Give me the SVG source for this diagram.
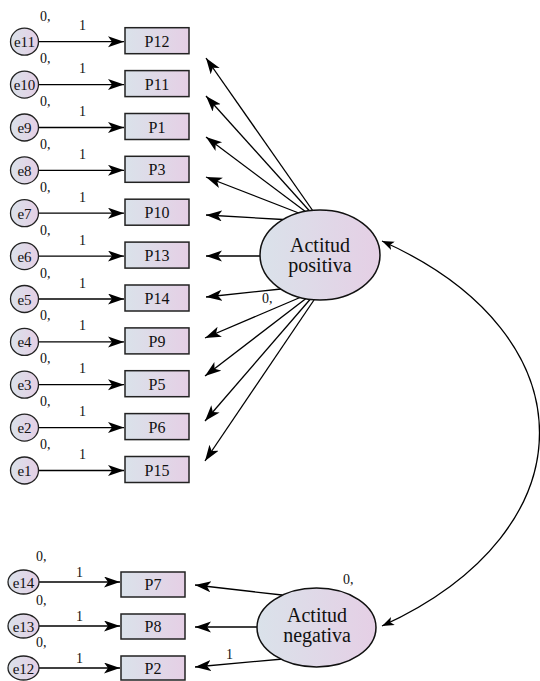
<svg xmlns="http://www.w3.org/2000/svg" width="540" height="681" viewBox="0 0 540 681">
<defs>
<linearGradient id="g" x1="0" y1="0" x2="1" y2="0">
<stop offset="0" stop-color="#dae2ea"/>
<stop offset="1" stop-color="#e5cfe5"/>
</linearGradient>
<marker id="ah" markerUnits="userSpaceOnUse" markerWidth="18" markerHeight="12" refX="16" refY="5.5" orient="auto">
<path d="M0,0 L16,5.5 L0,11 L4,5.5 z" fill="#000"/>
</marker>
<marker id="ahs" markerUnits="userSpaceOnUse" markerWidth="14" markerHeight="10" refX="12" refY="4.5" orient="auto">
<path d="M0,0 L12,4.5 L0,9 L3,4.5 z" fill="#000"/>
</marker>
<marker id="ahs0" markerUnits="userSpaceOnUse" markerWidth="14" markerHeight="10" refX="12" refY="4.5" orient="auto-start-reverse">
<path d="M0,0 L12,4.5 L0,9 L3,4.5 z" fill="#000"/>
</marker>
</defs>
<style>
.box{fill:url(#g);stroke:#222;stroke-width:1.5}
.err{fill:url(#g);stroke:#222;stroke-width:1.3}
.lat{fill:url(#g);stroke:#111;stroke-width:1.5}
text{font-family:'Liberation Serif','Times New Roman','DejaVu Serif',serif;fill:#111}
.lb{font-size:16px;text-anchor:middle}
.el{font-size:15px;text-anchor:middle}
.lt{font-size:20px;text-anchor:middle}
.n{font-size:14px}
.c line,.c path{stroke:#000;stroke-width:1.3;fill:none}
.c .h{marker-end:url(#ah)}
</style>
<g id="connectors" class="c">
<line class="h" x1="38" y1="41.7" x2="124" y2="41.7"/>
<line class="h" x1="38" y1="84.6" x2="124" y2="84.6"/>
<line class="h" x1="38" y1="127.5" x2="124" y2="127.5"/>
<line class="h" x1="38" y1="170.3" x2="124" y2="170.3"/>
<line class="h" x1="38" y1="213.2" x2="124" y2="213.2"/>
<line class="h" x1="38" y1="256.1" x2="124" y2="256.1"/>
<line class="h" x1="38" y1="299" x2="124" y2="299"/>
<line class="h" x1="38" y1="341.9" x2="124" y2="341.9"/>
<line class="h" x1="38" y1="384.7" x2="124" y2="384.7"/>
<line class="h" x1="38" y1="427.6" x2="124" y2="427.6"/>
<line class="h" x1="38" y1="470.5" x2="124" y2="470.5"/>
<line class="h" x1="313" y1="211" x2="206" y2="58"/>
<line class="h" x1="310" y1="211.5" x2="206" y2="96"/>
<line class="h" x1="306" y1="212" x2="206" y2="137"/>
<line class="h" x1="300" y1="213.5" x2="206" y2="177"/>
<line class="h" x1="283" y1="219.5" x2="206" y2="215"/>
<line class="h" x1="260" y1="256" x2="206" y2="256"/>
<line class="h" x1="281" y1="289" x2="206" y2="297"/>
<line class="h" x1="300" y1="297.5" x2="205" y2="338"/>
<line class="h" x1="306" y1="298.5" x2="205" y2="376"/>
<line class="h" x1="310" y1="299.5" x2="205" y2="421"/>
<line class="h" x1="314" y1="300" x2="205" y2="461"/>
<line class="h" x1="39" y1="582" x2="120" y2="582"/>
<line class="h" x1="39" y1="626" x2="120" y2="626"/>
<line class="h" x1="39" y1="668" x2="120" y2="668"/>
<line class="h" x1="282" y1="595" x2="195" y2="585"/>
<line class="h" x1="257" y1="627" x2="195" y2="627"/>
<line class="h" x1="283" y1="659" x2="195" y2="667"/>
<path d="M382,241 C592,335 592,530 382,626" style="marker-start:url(#ahs0);marker-end:url(#ahs)"/>
</g>
<g id="P12"><rect class="box" x="125" y="27.7" width="64" height="26"/><text class="lb" x="157" y="46.7">P12</text></g>
<g id="P11"><rect class="box" x="125" y="70.6" width="64" height="26"/><text class="lb" x="157" y="89.6">P11</text></g>
<g id="P1"><rect class="box" x="125" y="113.5" width="64" height="26"/><text class="lb" x="157" y="132.5">P1</text></g>
<g id="P3"><rect class="box" x="125" y="156.3" width="64" height="26"/><text class="lb" x="157" y="175.3">P3</text></g>
<g id="P10"><rect class="box" x="125" y="199.2" width="64" height="26"/><text class="lb" x="157" y="218.2">P10</text></g>
<g id="P13"><rect class="box" x="125" y="242.1" width="64" height="26"/><text class="lb" x="157" y="261.1">P13</text></g>
<g id="P14"><rect class="box" x="125" y="285" width="64" height="26"/><text class="lb" x="157" y="304">P14</text></g>
<g id="P9"><rect class="box" x="125" y="327.9" width="64" height="26"/><text class="lb" x="157" y="346.9">P9</text></g>
<g id="P5"><rect class="box" x="125" y="370.7" width="64" height="26"/><text class="lb" x="157" y="389.7">P5</text></g>
<g id="P6"><rect class="box" x="125" y="413.6" width="64" height="26"/><text class="lb" x="157" y="432.6">P6</text></g>
<g id="P15"><rect class="box" x="125" y="456.5" width="64" height="26"/><text class="lb" x="157" y="475.5">P15</text></g>
<g id="P7"><rect class="box" x="121" y="572" width="64" height="25"/><text class="lb" x="153" y="590">P7</text></g>
<g id="P8"><rect class="box" x="121" y="614" width="64" height="25"/><text class="lb" x="153" y="632">P8</text></g>
<g id="P2"><rect class="box" x="121" y="656" width="64" height="24"/><text class="lb" x="153" y="674">P2</text></g>
<g id="e11"><ellipse class="err" cx="24.5" cy="41.7" rx="14" ry="13.5"/><text class="el" x="24.5" y="47">e11</text><text class="n" x="40" y="21">0,</text><text class="n" x="79" y="30">1</text></g>
<g id="e10"><ellipse class="err" cx="24.5" cy="84.6" rx="14" ry="13.5"/><text class="el" x="24.5" y="90">e10</text><text class="n" x="40" y="63">0,</text><text class="n" x="79" y="73">1</text></g>
<g id="e9"><ellipse class="err" cx="24.5" cy="127.5" rx="14" ry="13.5"/><text class="el" x="24.5" y="133">e9</text><text class="n" x="40" y="106">0,</text><text class="n" x="79" y="116">1</text></g>
<g id="e8"><ellipse class="err" cx="24.5" cy="170.3" rx="14" ry="13.5"/><text class="el" x="24.5" y="175.5">e8</text><text class="n" x="40" y="149">0,</text><text class="n" x="79" y="159">1</text></g>
<g id="e7"><ellipse class="err" cx="24.5" cy="213.2" rx="14" ry="13.5"/><text class="el" x="24.5" y="218.5">e7</text><text class="n" x="40" y="192">0,</text><text class="n" x="79" y="202">1</text></g>
<g id="e6"><ellipse class="err" cx="24.5" cy="256.1" rx="14" ry="13.5"/><text class="el" x="24.5" y="261.5">e6</text><text class="n" x="40" y="235">0,</text><text class="n" x="79" y="245">1</text></g>
<g id="e5"><ellipse class="err" cx="24.5" cy="299" rx="14" ry="13.5"/><text class="el" x="24.5" y="304.5">e5</text><text class="n" x="40" y="278">0,</text><text class="n" x="79" y="288">1</text></g>
<g id="e4"><ellipse class="err" cx="24.5" cy="341.9" rx="14" ry="13.5"/><text class="el" x="24.5" y="347">e4</text><text class="n" x="40" y="320">0,</text><text class="n" x="79" y="330">1</text></g>
<g id="e3"><ellipse class="err" cx="24.5" cy="384.7" rx="14" ry="13.5"/><text class="el" x="24.5" y="390">e3</text><text class="n" x="40" y="363">0,</text><text class="n" x="79" y="373">1</text></g>
<g id="e2"><ellipse class="err" cx="24.5" cy="427.6" rx="14" ry="13.5"/><text class="el" x="24.5" y="433">e2</text><text class="n" x="40" y="406">0,</text><text class="n" x="79" y="416">1</text></g>
<g id="e1"><ellipse class="err" cx="24.5" cy="470.5" rx="14" ry="13.5"/><text class="el" x="24.5" y="476">e1</text><text class="n" x="40" y="449">0,</text><text class="n" x="79" y="459">1</text></g>
<g id="e14"><ellipse class="err" cx="23.5" cy="582" rx="15.5" ry="12"/><text class="el" x="23.5" y="587.5">e14</text><text class="n" x="36" y="561">0,</text><text class="n" x="76" y="577">1</text></g>
<g id="e13"><ellipse class="err" cx="23.5" cy="626" rx="15.5" ry="12"/><text class="el" x="23.5" y="631.5">e13</text><text class="n" x="36" y="605">0,</text><text class="n" x="76" y="621">1</text></g>
<g id="e12"><ellipse class="err" cx="23.5" cy="668" rx="15.5" ry="12"/><text class="el" x="23.5" y="673.5">e12</text><text class="n" x="36" y="647">0,</text><text class="n" x="76" y="663">1</text></g>
<g id="actitud-positiva"><ellipse class="lat" cx="320" cy="255" rx="60" ry="45"/><text class="lt" x="320" y="252">Actitud</text><text class="lt" x="320" y="272">positiva</text><text class="n" x="262" y="303">0,</text></g>
<g id="actitud-negativa"><ellipse class="lat" cx="316.5" cy="627.5" rx="59.5" ry="39.5"/><text class="lt" x="317" y="622">Actitud</text><text class="lt" x="317" y="642">negativa</text><text class="n" x="343" y="584">0,</text><text class="n" x="226" y="659">1</text></g>
</svg>
